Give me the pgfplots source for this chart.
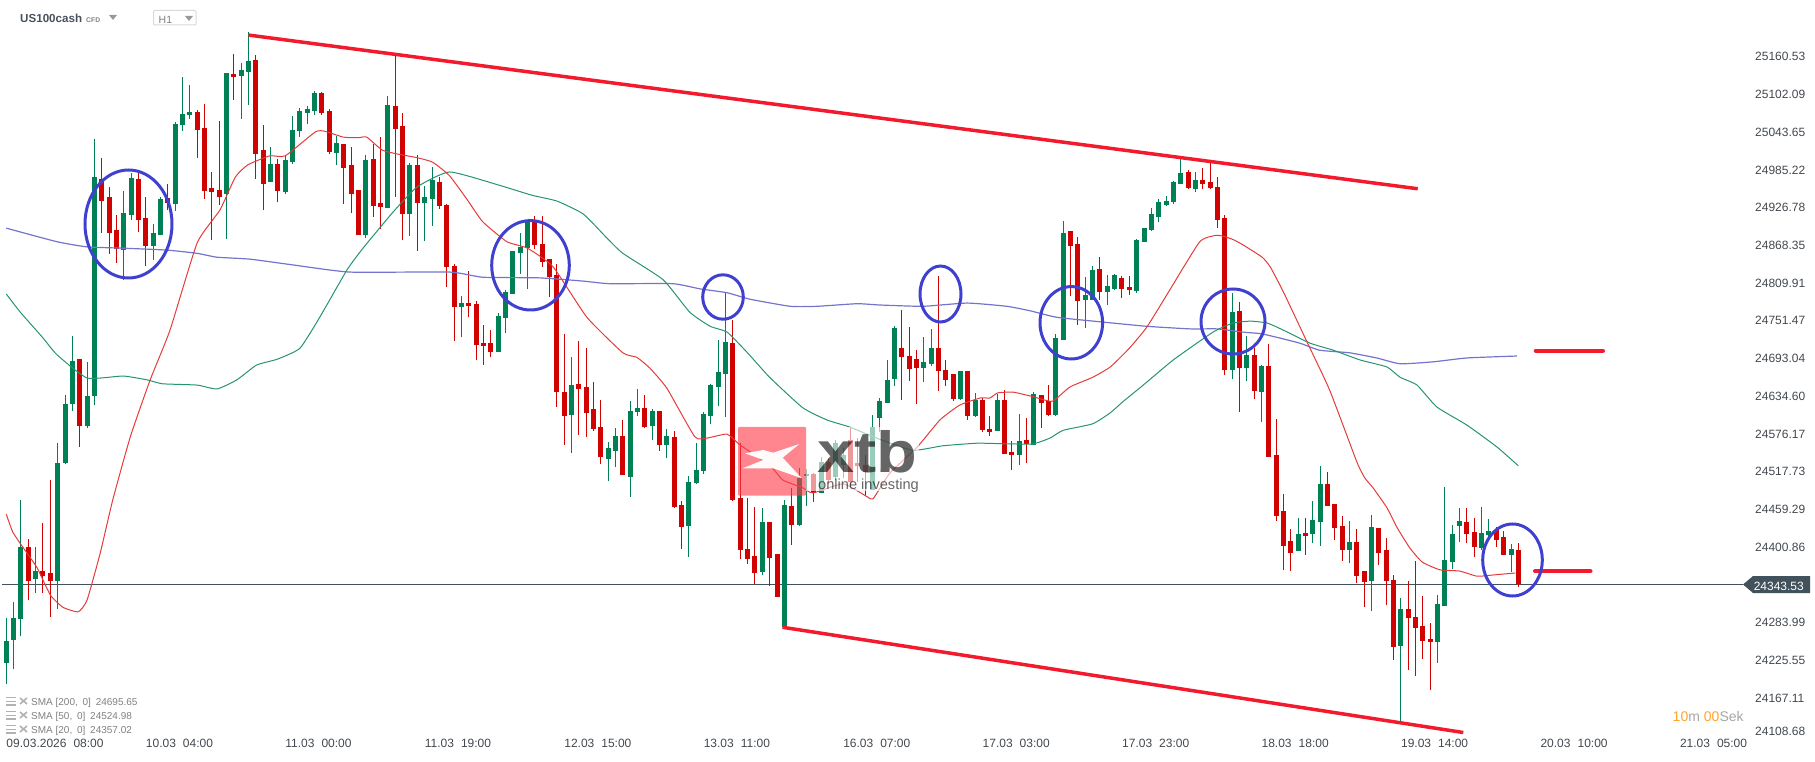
\documentclass[border=0pt]{standalone}
\usepackage{fontspec}
\setmainfont{Liberation Sans}
\usepackage{pgfplots}
\usepackage{pgfplotstable}
\pgfplotsset{compat=1.18}

\definecolor{cgreen}{RGB}{0,128,85}
\definecolor{cred}{RGB}{208,2,2}
\definecolor{smared}{RGB}{228,58,58}
\definecolor{smagreen}{RGB}{38,148,112}
\definecolor{smablue}{RGB}{116,116,204}
\definecolor{ring}{RGB}{64,64,208}
\definecolor{trend}{RGB}{242,26,44}
\definecolor{slate}{RGB}{66,82,92}
\definecolor{labelgrey}{RGB}{66,72,78}
\definecolor{orangetxt}{RGB}{255,165,40}

% i high bodytop bodybottom low
\pgfplotstableread{
i h t b l
0 24292 24256 24222 24189
1 24316 24291 24257 24212
2 24474 24401 24290 24263
4 24401 24364 24352 24330
7 24562 24531 24349 24305
8 24637 24623 24531 24530
9 24728 24689 24623 24612
11 24688 24635 24589 24585
12 25033 24974 24635 24621
16 24952 24918 24861 24815
17 24980 24973 24915 24908
20 24901 24887 24867 24846
21 24943 24940 24884 24884
23 25059 25056 24932 24922
24 25129 25072 25055 25045
25 25117 25075 25070 25064
30 25135 25135 24948 24878
32 25151 25140 25131 25064
33 25199 25154 25137 25086
36 25021 24994 24966 24966
38 25008 25000 24951 24948
39 25069 25047 24997 24994
40 25081 25076 25045 25036
41 25084 25079 25073 25056
42 25107 25104 25076 25070
45 25038 25027 25011 24993
49 25008 25000 24884 24880
52 25100 25086 24926 24926
55 24996 24993 24917 24883
57 24960 24943 24934 24875
58 24990 24970 24940 24898
62 24790 24779 24773 24726
67 24764 24759 24703 24703
68 24799 24796 24756 24733
69 24860 24860 24793 24793
70 24887 24866 24856 24824
71 24908 24904 24864 24801
77 24695 24652 24606 24547
82 24564 24555 24537 24503
83 24585 24573 24550 24525
85 24627 24612 24510 24479
86 24646 24617 24610 24604
88 24615 24612 24589 24567
90 24584 24573 24559 24539
93 24511 24502 24434 24386
94 24562 24521 24500 24499
95 24610 24607 24519 24514
96 24654 24652 24604 24592
97 24722 24672 24649 24620
98 24795 24719 24669 24603
103 24462 24440 24363 24358
106 24474 24466 24277 24277
108 24524 24508 24435 24434
109 24522 24514 24511 24465
111 24541 24533 24485 24485
113 24567 24562 24510 24505
114 24555 24544 24528 24508
118 24606 24587 24490 24490
119 24632 24627 24601 24579
120 24691 24660 24624 24624
121 24743 24740 24661 24651
125 24726 24688 24678 24657
126 24739 24709 24685 24681
130 24674 24674 24630 24629
132 24640 24629 24604 24603
135 24638 24629 24581 24581
138 24607 24565 24544 24528
140 24641 24638 24559 24559
143 24731 24725 24606 24604
144 24906 24887 24722 24722
147 24819 24792 24784 24740
148 24836 24830 24784 24784
150 24822 24805 24796 24776
151 24824 24822 24801 24799
154 24878 24877 24798 24795
155 24895 24895 24874 24874
156 24926 24917 24892 24891
157 24940 24935 24912 24904
158 24945 24937 24931 24929
159 24968 24966 24935 24932
160 25007 24980 24963 24963
162 24982 24970 24956 24951
167 24795 24765 24675 24661
169 24728 24699 24678 24658
171 24683 24681 24641 24595
176 24446 24421 24395 24395
178 24473 24443 24421 24407
179 24527 24499 24440 24403
183 24442 24409 24397 24376
186 24451 24432 24349 24302
190 24322 24305 24248 24129
195 24327 24313 24254 24222
196 24494 24381 24310 24310
197 24435 24421 24378 24367
198 24462 24442 24434 24409
201 24463 24423 24400 24397
202 24445 24426 24420 24412
205 24406 24398 24389 24363
}\greenbars

\pgfplotstableread{
i h t b l
3 24414 24401 24349 24319
5 24438 24364 24356 24330
6 24505 24361 24349 24293
10 24692 24692 24589 24556
13 25004 24971 24937 24888
14 24959 24943 24887 24855
15 24915 24892 24863 24841
18 24980 24971 24908 24889
19 24943 24911 24867 24836
22 24963 24942 24934 24923
26 25078 25075 25047 25004
27 25087 25050 24952 24940
28 24982 24957 24951 24877
29 25061 24954 24943 24931
31 25165 25134 25129 25093
34 25163 25155 25010 24971
35 25055 25016 24963 24923
37 25002 24994 24952 24935
43 25106 25104 25073 25070
44 25079 25076 25013 25010
46 25025 25025 24988 24932
47 25021 24993 24948 24918
48 24954 24954 24884 24884
50 25025 25002 24929 24912
51 25036 24934 24928 24894
53 25163 25084 25048 24943
54 25073 25053 24917 24877
56 25008 24993 24934 24860
59 24974 24966 24929 24925
60 24932 24931 24835 24804
61 24840 24836 24773 24720
63 24829 24779 24774 24757
64 24782 24778 24714 24691
65 24745 24717 24712 24683
66 24737 24717 24703 24695
72 24914 24904 24869 24863
73 24914 24870 24843 24835
74 24847 24847 24819 24788
75 24840 24822 24641 24618
76 24731 24641 24604 24559
78 24720 24654 24646 24575
79 24709 24649 24609 24572
80 24657 24615 24584 24581
81 24629 24587 24541 24530
84 24598 24573 24513 24513
87 24637 24617 24587 24585
89 24612 24612 24559 24550
91 24581 24572 24463 24462
92 24473 24466 24432 24398
99 24753 24717 24474 24473
100 24562 24477 24397 24383
101 24477 24398 24383 24375
102 24463 24387 24361 24344
104 24440 24440 24384 24341
105 24390 24390 24324 24324
107 24493 24465 24435 24404
110 24516 24514 24485 24471
112 24539 24533 24505 24500
115 24585 24567 24502 24494
116 24570 24531 24527 24502
117 24544 24528 24517 24482
122 24768 24709 24695 24629
123 24742 24697 24677 24658
124 24706 24692 24678 24623
127 24821 24709 24674 24643
128 24691 24675 24660 24651
129 24669 24669 24630 24627
131 24674 24674 24604 24598
133 24632 24629 24582 24579
134 24604 24584 24579 24573
136 24644 24629 24545 24545
137 24565 24548 24544 24521
139 24601 24567 24561 24531
141 24637 24637 24624 24585
142 24652 24627 24606 24604
145 24891 24891 24867 24790
146 24881 24870 24782 24745
149 24850 24832 24796 24784
152 24821 24818 24801 24787
153 24821 24804 24799 24792
161 24985 24982 24957 24956
163 24988 24970 24963 24956
164 24999 24966 24957 24956
165 24974 24959 24908 24895
166 24915 24911 24675 24668
168 24781 24767 24678 24610
170 24709 24699 24643 24630
172 24716 24681 24541 24541
173 24599 24544 24449 24442
174 24483 24457 24403 24366
175 24429 24411 24392 24364
177 24446 24423 24418 24389
180 24517 24499 24465 24465
181 24468 24468 24431 24412
182 24449 24434 24397 24380
184 24429 24409 24356 24345
185 24364 24364 24347 24308
187 24431 24431 24392 24373
188 24415 24397 24349 24311
189 24358 24350 24246 24226
191 24349 24305 24291 24211
192 24380 24293 24276 24201
193 24325 24279 24256 24228
194 24284 24259 24254 24180
199 24462 24440 24421 24407
200 24446 24424 24401 24386
203 24432 24427 24412 24401
204 24426 24417 24389 24389
206 24407 24397 24344 24339
}\redbars

\newcommand{\tl}[2]{#1\hspace{7pt}#2}

\begin{document}
\begin{tikzpicture}
\begin{axis}[
    at={(0pt,23pt)}, anchor=south west,
    scale only axis, width=1745pt, height=738pt,
    xmin=-0.858, xmax=236.88,
    ymin=24105.5, ymax=25248.3,
    axis line style={draw=none},
    major tick length=0pt,
    xtick={0,19,38,57,76,95,114,133,152,171,190,209,228},
    xticklabels={\tl{09.03.2026}{08:00},\tl{10.03}{04:00},\tl{11.03}{00:00},\tl{11.03}{19:00},\tl{12.03}{15:00},\tl{13.03}{11:00},\tl{16.03}{07:00},\tl{17.03}{03:00},\tl{17.03}{23:00},\tl{18.03}{18:00},\tl{19.03}{14:00},\tl{20.03}{10:00},\tl{21.03}{05:00}},
    xticklabel style={anchor=north west, inner sep=0pt, yshift=-1pt, font=\fontsize{12}{14}\selectfont, text=labelgrey},
    yticklabel pos=right,
    ytick={25160.53,25102.09,25043.65,24985.22,24926.78,24868.35,24809.91,24751.47,24693.04,24634.60,24576.17,24517.73,24459.29,24400.86,24283.99,24225.55,24167.11,24115.3},
    yticklabels={25160.53,25102.09,25043.65,24985.22,24926.78,24868.35,24809.91,24751.47,24693.04,24634.60,24576.17,24517.73,24459.29,24400.86,24283.99,24225.55,24167.11,24108.68},
    yticklabel style={anchor=west, inner sep=0pt, xshift=10pt, font=\fontsize{12}{14}\selectfont, text=labelgrey},
]
% price line
\addplot[slate, line width=1pt, forget plot] coordinates {(-0.6,24343.53) (236.6,24343.53)};

% wicks
\addplot[draw=none, mark=none, forget plot, error bars/.cd, y dir=plus, y explicit, error mark=none,
    error bar style={cgreen, line width=1pt}]
    table[x=i, y=l, y error plus expr=\thisrow{h}-\thisrow{l}] {\greenbars};
\addplot[draw=none, mark=none, forget plot, error bars/.cd, y dir=plus, y explicit, error mark=none,
    error bar style={cred, line width=1pt}]
    table[x=i, y=l, y error plus expr=\thisrow{h}-\thisrow{l}] {\redbars};
% bodies
\addplot[draw=none, mark=none, forget plot, error bars/.cd, y dir=plus, y explicit, error mark=none,
    error bar style={cgreen, line width=5pt}]
    table[x=i, y=b, y error plus expr=\thisrow{t}-\thisrow{b}] {\greenbars};
\addplot[draw=none, mark=none, forget plot, error bars/.cd, y dir=plus, y explicit, error mark=none,
    error bar style={cred, line width=5pt}]
    table[x=i, y=b, y error plus expr=\thisrow{t}-\thisrow{b}] {\redbars};

% SMA 200
\addplot[smablue, line width=1.2pt, smooth, tension=0.3] coordinates {
(0,24895) (6.9,24874) (11,24866) (15.9,24864) (21.9,24861) (26,24856) (28.7,24850) (33.2,24847)
(39.1,24838) (46.8,24827) (60.4,24827) (64.9,24819) (72.7,24818) (78.6,24813) (82.2,24809) (90.8,24809)
(94.5,24801) (98.2,24795) (101.3,24785) (106.8,24774) (110.5,24774) (115.9,24778) (119,24776) (124.9,24774)
(130.9,24779) (136.3,24774) (139.5,24767) (143.1,24757) (149,24750) (155.4,24743) (161.3,24739) (165,24739)
(168.5,24734) (171.2,24731) (176.2,24717) (178.9,24706) (183,24702) (186.7,24694) (189.9,24685) (194.4,24688)
(199,24694) (205.8,24697)};
% SMA 50
\addplot[smagreen, line width=1pt, smooth, tension=0.3] coordinates {
(0,24793) (1.9,24765) (5,24725) (6.9,24699) (11,24663) (15.9,24666) (19.2,24660) (21.3,24654) (26,24652)
(28.7,24646) (31.4,24660) (34.1,24683) (36.9,24692) (40,24709) (42.7,24757) (46.4,24830) (48.6,24864)
(52.7,24920) (56,24959) (60.4,24982) (67,24962) (71.6,24946) (75,24937) (78.6,24917) (81.8,24880) (84,24856)
(89.5,24815) (93.1,24765) (95.9,24743) (98.2,24734) (100.9,24703) (104,24664) (108.5,24617) (111.8,24598)
(114.9,24587) (119,24568) (123.5,24551) (127.6,24558) (132.3,24562) (136.3,24561) (139.9,24561) (142.2,24570)
(144,24582) (148,24592) (150.4,24609) (152.1,24626) (154.9,24652) (159,24691) (164.4,24734) (167.1,24748)
(169.5,24751) (171.8,24748) (174,24737) (177.6,24717) (180.8,24706) (184.4,24691) (188.1,24680) (189.9,24664)
(192.2,24652) (194.9,24618) (199,24590) (203.1,24556) (206,24527)};
% SMA 20
\addplot[smared, line width=1pt, smooth, tension=0.3] coordinates {
(0,24452) (0.9,24424) (2.5,24397) (4.2,24369) (6,24327) (7.7,24308) (9.8,24301) (11,24319) (12.8,24392)
(14.5,24474) (16.9,24572) (19.6,24660) (22.3,24737) (26,24872) (29.1,24923) (31.2,24974) (32.9,24993)
(35.9,25007) (38,25007) (42.1,25044) (43.4,25045) (45.9,25036) (47.9,25035) (49.1,25036) (51.2,25016)
(53.2,25010) (56,25004) (58.1,24997) (60.4,24976) (62.8,24939) (64.9,24905) (68.2,24874) (71,24864)
(74.5,24835) (79.1,24757) (84,24702) (85.9,24695) (87.7,24678) (90,24647) (93.8,24572) (95.5,24570)
(98.2,24576) (100,24559) (104,24528) (105.8,24505) (108.5,24493) (109.9,24485) (114,24499) (117.3,24479)
(118.1,24476) (120.4,24516) (124.1,24556) (127.2,24598) (129.9,24621) (132.7,24632) (134,24632) (135.1,24640)
(137.2,24641) (139.9,24634) (142.5,24627) (144.9,24649) (148,24664) (150.4,24680) (153,24709) (155.4,24742)
(158.5,24799) (162.6,24874) (165,24884) (167,24878) (168.5,24869) (171.1,24850) (172.2,24835) (174,24796)
(177.2,24719) (180.3,24644) (184,24533) (185.1,24508) (186.2,24493) (188.1,24462) (189.5,24431) (191.2,24400)
(192.9,24378) (195.3,24366) (198,24364) (200.4,24356) (202.6,24358) (205.6,24361)};

% drawn trend lines
\addplot[trend, line width=3.5pt] coordinates {(33,25194) (192.3,24956)};
\addplot[trend, line width=3.5pt] coordinates {(105.75,24277) (198.5,24114)};
\addplot[trend, line width=4.5pt, line cap=round] coordinates {(208.4,24705) (217.5,24705)};
\addplot[trend, line width=4.5pt, line cap=round] coordinates {(208.3,24364) (215.8,24364)};
\end{axis}

% overlay, in screen pixels from the top left
\begin{scope}[x=1pt, y=-1pt, yshift=761pt]
  \foreach \cx/\cy/\rx/\ry in {128.5/224/43.5/54, 530.5/265.3/38.8/44.7, 723/297/20.3/22.2, 940.5/294/20.5/28,
      1071.3/322.8/31.3/36.2, 1233/321.5/32/32.5, 1512.5/560/29.8/36}
    \draw[ring, line width=3pt] (\cx,\cy) ellipse [x radius=\rx, y radius=\ry];

  % logo watermark, pale over what lies under it
  \fill[white, opacity=0.6] (806,427) rectangle (918.5,491);
  \fill[rounded corners=1pt, fill={rgb,255:red,255;green,60;blue,75}, opacity=0.62] (738,427) rectangle (806,495.7);
  \fill[white, opacity=0.97] (745,453.3) -- (763.3,450) -- (773.3,452.7) -- (799.3,444) -- (782.7,457.7)
      -- (801.7,478.3) -- (773.3,468.3) -- (742.7,468.3) -- (763.3,460) -- cycle;
  \node[anchor=base west, inner sep=0pt, text opacity=0.6, text=black, font=\fontsize{58}{58}\selectfont\bfseries] at (817,473) {\scalebox{1.15}[1]{xtb}};
  \node[anchor=base west, inner sep=0pt, text opacity=0.6, text=black, font=\fontsize{14.6}{16}\selectfont] at (818,490) {online investing};

  % current price tag
  \fill[slate] (1743,584.5) -- (1753,576) -- (1810,576) -- (1810,593) -- (1753,593) -- cycle;
  \node[anchor=base east, inner sep=0pt, text=white, font=\fontsize{12}{14}\selectfont] at (1804,590) {24343.53};

  % header
  \node[anchor=base west, inner sep=0pt, text={rgb,255:red,72;green,82;blue,92}, font=\fontsize{11.6}{14}\selectfont\bfseries] at (20,23) {US100cash};
  \node[anchor=base west, inner sep=0pt, text=gray, font=\fontsize{6.8}{8}\selectfont\bfseries] at (86,22.5) {CFD};
  \fill[gray!80] (109,15) -- (117,15) -- (113,20) -- cycle;
  \draw[gray!30, line width=1pt, rounded corners=1pt] (153.5,10.5) rectangle (196,25);
  \node[anchor=base west, inner sep=0pt, text=gray, font=\fontsize{10.5}{12}\selectfont] at (158.5,23.5) {H1};
  \fill[gray!80] (185,16) -- (193,16) -- (189,21) -- cycle;

  % indicator legend
  \foreach \yy/\txt in {701.5/{SMA [200,\hspace{2pt} 0]\hspace{2pt} 24695.65}, 715.5/{SMA [50,\hspace{2pt} 0]\hspace{2pt} 24524.98}, 729.5/{SMA [20,\hspace{2pt} 0]\hspace{2pt} 24357.02}} {
    \node[anchor=base west, inner sep=0pt, text=gray, font=\fontsize{10}{12}\selectfont] at (31,\yy+3.5) {\txt};
    \draw[gray!60, line width=1.2pt] (6,\yy-4) -- (16,\yy-4) (6,\yy) -- (16,\yy) (6,\yy+3.5) -- (16,\yy+3.5);
    \draw[gray!60, line width=1.6pt] (20,\yy-3.5) -- (27,\yy+2.5) (27,\yy-3.5) -- (20,\yy+2.5);
  }

  % countdown
  \node[anchor=base west, inner sep=0pt, font=\fontsize{14}{16}\selectfont] at (1672.5,721)
    {\textcolor{orangetxt}{10}\textcolor{gray!70}{m}\hspace{4pt}\textcolor{orangetxt}{00}\textcolor{gray!70}{Sek}};
\end{scope}
\pgfresetboundingbox
\useasboundingbox (0,0) rectangle (1815pt,761pt);
\end{tikzpicture}
\end{document}
